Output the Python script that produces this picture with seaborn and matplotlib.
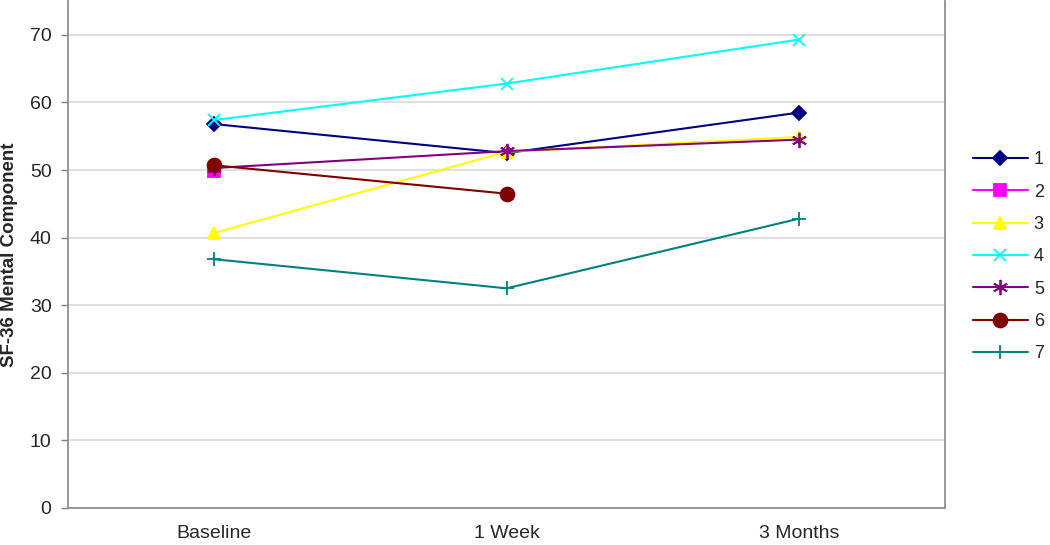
import numpy as np
import pandas as pd
import matplotlib
matplotlib.use("Agg")
import matplotlib.pyplot as plt
from matplotlib.ticker import FixedLocator
import seaborn as sns

# --- Data ---
timepoints = ["Baseline", "1 Week", "3 Months"]
s1 = [56.8, 52.5, 58.5]
s2 = [49.8, np.nan, np.nan]
s3 = [40.7, 52.7, 54.9]
s4 = [57.4, 62.8, 69.3]
s5 = [50.3, 52.8, 54.5]
s6 = [50.7, 46.5, np.nan]
s7 = [36.8, 32.5, 42.8]

series_names = ["1", "2", "3", "4", "5", "6", "7"]
series_vals = [s1, s2, s3, s4, s5, s6, s7]
colors = ["#000080", "#FF00FF", "#FFFF00", "#00FFFF", "#800080", "#800000", "#008080"]
markers = ["D", "s", "^", "x", (6, 2, 0), "o", "+"]
msizes = [7, 8, 8.5, 9, 11, 10, 10]

rows = []
for name, vals in zip(series_names, series_vals):
    for i, v in enumerate(vals):
        rows.append({"series": name, "pos": i, "value": v})
df = pd.DataFrame(rows).dropna()

sns.set_style("white")
plt.rcParams["font.family"] = ["Liberation Sans", "DejaVu Sans"]

fig = plt.figure(figsize=(10.5, 5.45), dpi=100)
ax = fig.add_axes([0.065, 0.068, 0.835, 0.93])

for name, c, m, ms in zip(series_names, colors, markers, msizes):
    d = df[df["series"] == name]
    sns.lineplot(data=d, x="pos", y="value", ax=ax, color=c, marker=m,
                 markersize=ms, markeredgecolor=c, markerfacecolor=c,
                 markeredgewidth=1.3, linewidth=1.5, label=name)

ax.set_xlim(-0.5, 2.5)
ax.set_ylim(0, 75)
ax.set_yticks(range(0, 80, 10))
ax.yaxis.grid(True, color="#d9d9d9", linewidth=1.2)
ax.set_axisbelow(True)

ax.set_xticks(range(len(timepoints)))
ax.set_xticklabels(timepoints)
ax.xaxis.set_minor_locator(FixedLocator([-0.5, 0.5, 1.5, 2.5]))
ax.tick_params(axis="x", which="major", length=0, pad=12, labelsize=14)
ax.tick_params(axis="x", which="minor", length=5, color="#808080", width=1)
ax.tick_params(axis="y", length=5, color="#808080", width=1, pad=7, labelsize=14,
               left=True)

for side in ["left", "bottom", "right"]:
    ax.spines[side].set_color("#909090")
    ax.spines[side].set_linewidth(1.3)
ax.spines["top"].set_visible(False)

ax.set_xlabel("")
ax.set_ylabel("SF-36 Mental Component", fontsize=13.5, fontweight="bold")
ax.yaxis.set_label_coords(-0.057, 0.5)

ax.get_legend().remove()
handles, labels = ax.get_legend_handles_labels()
fig.legend(handles, labels, loc="center left", bbox_to_anchor=(0.927, 0.529),
           frameon=False, fontsize=13, handlelength=3.0, handletextpad=0.35,
           labelspacing=0.85, borderpad=0, borderaxespad=0)

fig.savefig("out.png", dpi=100)
